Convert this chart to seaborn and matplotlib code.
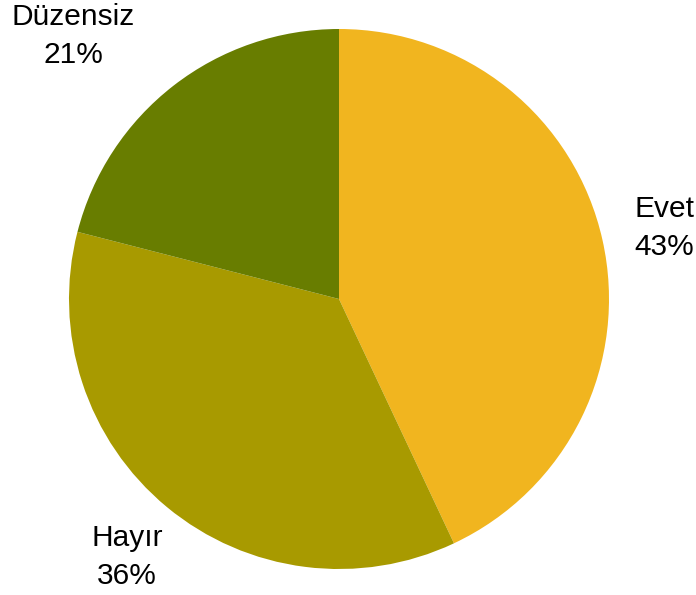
import seaborn as sns
import matplotlib.pyplot as plt

categories = ['Evet', 'Hayır', 'Düzensiz']
shares = [43, 36, 21]
slice_colors = ['#F1B51F', '#A89A00', '#687D00']
# label centres in pie units (radius = 1)
label_pos = [(1.204, 0.263), (-0.785, -0.956), (-0.985, 0.974)]

sns.set_theme(style="white")
plt.rcParams['font.family'] = ['Liberation Sans', 'DejaVu Sans']

fig = plt.figure(figsize=(6.96, 5.95), dpi=100)
ax = fig.add_axes([69/696, 26/595, 540/696, 540/595])
palette = sns.color_palette(slice_colors)

wedges, texts = ax.pie(shares, colors=palette, startangle=90, counterclock=False,
                       radius=1, wedgeprops={'linewidth': 0},
                       labels=['{}\n{}%'.format(c, s) for c, s in zip(categories, shares)],
                       textprops={'fontsize': 21.5, 'color': 'black'})
for t, (x, y) in zip(texts, label_pos):
    t.set_position((x, y))
    t.set_ha('center')
    t.set_va('center')
    t.set_linespacing(1.45)
    t.set_clip_on(False)

ax.set_xlim(-1, 1)
ax.set_ylim(-1, 1)
ax.set_aspect('equal')
ax.axis('off')
fig.savefig('out.png', dpi=100)
